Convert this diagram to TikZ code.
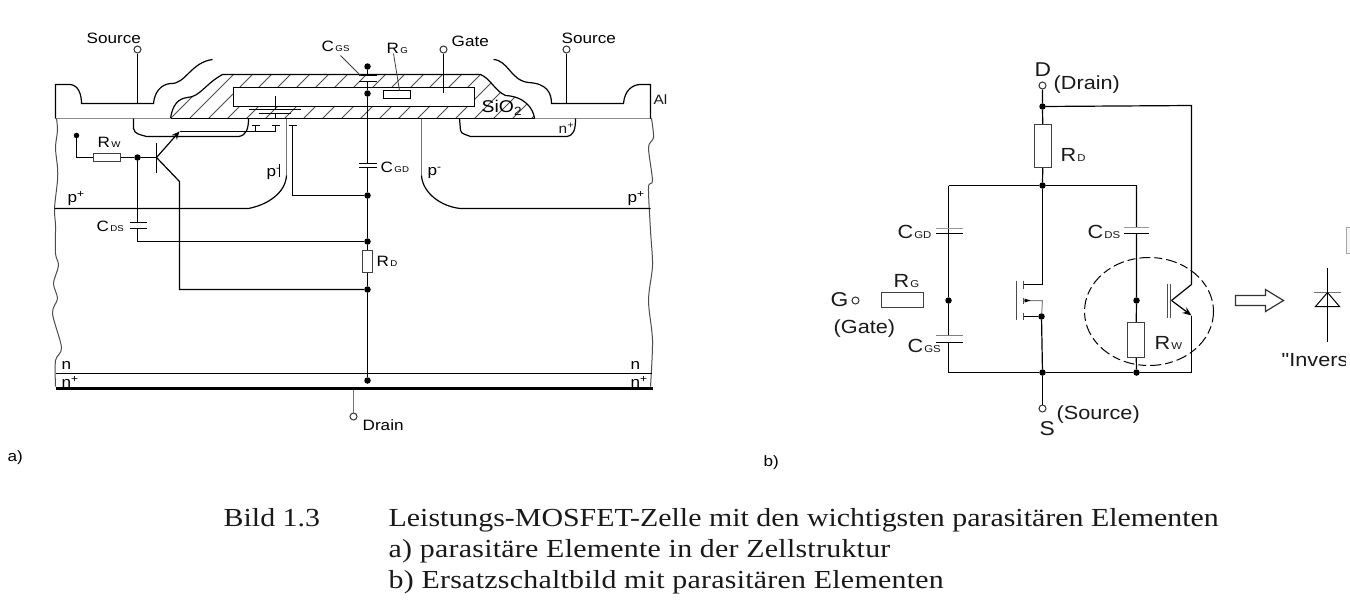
\documentclass[tikz,border=0pt]{standalone}
\usepackage{fontspec}
\setmainfont{Liberation Sans}
\newfontfamily\capfont[FakeStretch=1.15,Ligatures=TeX]{Liberation Serif}
\newfontfamily\wsans[FakeStretch=1.14]{Liberation Sans}
\usetikzlibrary{arrows.meta}
\newcommand{\sublab}[2]{#1{\fontsize{8.5}{8}\selectfont\,#2}}
\newcommand{\subbig}[2]{#1{\fontsize{10}{10}\selectfont\hspace{1pt}#2}}
\tikzset{
  x=1pt,y=-1pt,
  wire/.style={line width=1.2pt,black},
  grayline/.style={line width=1.2pt,black!55},
  dot/.style={circle,fill=black,inner sep=0pt,minimum size=6.5pt},
  term/.style={circle,draw=black!80,fill=white,line width=1pt,inner sep=0pt,minimum size=7pt},
  res/.style={rectangle,draw=black!75,fill=white,line width=1.2pt,inner sep=0pt},
  lab/.style={inner sep=0pt,font=\wsans\fontsize{15}{17}\selectfont,text=black},
  smalllab/.style={inner sep=0pt,font=\wsans\fontsize{13.5}{15}\selectfont,text=black!90},
  biglab/.style={inner sep=0pt,font=\wsans\fontsize{19}{21}\selectfont,text=black!90},
  captxt/.style={inner sep=0pt,anchor=base west,font=\capfont\fontsize{26}{28}\selectfont,text=black!90},
}
\begin{document}
\begin{tikzpicture}
\useasboundingbox (0,0) rectangle (1350,616);
\fill[white] (0,0) rectangle (1350,616);
\begin{scope}[shift={(0.5,0.5)}]

% ---------- a) cell structure ----------
% hatching of the oxide
\begin{scope}
\clip (170,118) .. controls (172,104) and (178,98) .. (187,97) .. controls (200,96) and (204,84) .. (222,74) -- (480,74) .. controls (490,78) and (494,90) .. (505,95) .. controls (524,96) and (533,108) .. (534,118) -- cycle;
\foreach \hx in {130,149,...,530} \draw[line width=.8pt,black!70] (\hx,120) -- (\hx+48,72);
\end{scope}
\draw[wire] (170,118) .. controls (172,104) and (178,98) .. (187,97) .. controls (200,96) and (204,84) .. (222,74) -- (480,74) .. controls (490,78) and (494,90) .. (505,95) .. controls (524,96) and (533,108) .. (534,118);
\draw[line width=1.6pt] (170,118) -- (534,118);
\node[res,draw=black,anchor=north west,minimum width=241pt,minimum height=19pt] (poly) at (232,86) {};

% surface
\draw[line width=1.2pt,black!45] (55,118) -- (170,118) (534,118) -- (651,118);
% aluminium outline
\draw[wire] (55,118) -- (55,84) -- (70,84) .. controls (78,85) and (81,94) .. (81,103) -- (153,103) .. controls (154,92) and (160,84) .. (170,83) .. controls (185,84) and (190,62) .. (212,59);
\draw[wire] (493,59) .. controls (508,60) and (510,80) .. (528,82) .. controls (546,83) and (551,92) .. (551,103) -- (623,103) .. controls (624,90) and (632,84) .. (640,84) -- (650,84) -- (650,118);

% rough edges
\draw[line width=1pt,black!70] plot[smooth] coordinates {(56,118) (57,130) (55,147) (57,167) (57,180) (54,208) (55,225) (55,253) (58,265) (53,283) (57,298) (52,313) (61,347) (55,360) (55,386)};
\draw[line width=1pt,black!70] plot[smooth] coordinates {(651,118) (653,137) (648,147) (652,180) (648,187) (650,230) (652,265) (648,300) (652,340) (650,386)};

% n+ wells
\draw[wire] (133,118) -- (133,128) .. controls (134,134) and (140,134) .. (146,136) -- (238,136) .. controls (246,135) and (248,128) .. (248,118);
\draw[wire] (459,118) -- (460,130) .. controls (461,134) and (466,134) .. (470,136) -- (566,136) .. controls (573,135) and (575,130) .. (575,118);

% p regions
\draw[grayline] (286,118) -- (286,175);
\draw[wire] (286,175) .. controls (285,192) and (268,204) .. (248,208) -- (54,208);
\draw[grayline] (421,118) -- (421,175);
\draw[wire] (421,175) .. controls (422,192) and (440,206) .. (460,208) -- (650,208);

% substrate
\draw[line width=1pt] (55,373) -- (651,373);
\draw[line width=3pt] (55,388) -- (652,388);

% terminals
\node[term] (srcL) at (137,49) {};
\node[term] (srcR) at (566,49) {};
\node[term] (gateT) at (443,49) {};
\node[term] (drainT) at (353,416) {};
\coordinate (srcLb) at (137,103);
\coordinate (srcRb) at (566,103);
\coordinate (gateb) at (443,92);
\coordinate (drainb) at (353,389);
\draw[wire] (srcL) -- (srcLb);
\draw[wire] (srcR) -- (srcRb);
\draw[line width=1pt] (gateT) -- (gateb);
\draw[grayline] (drainT) -- (drainb);

% centre branch
\node[dot] (t1) at (367,66) {};
\node[dot] (t2) at (367,93) {};
\node[dot] (t3) at (367,195) {};
\node[dot] (t4) at (367,241) {};
\node[dot] (t5) at (367,289) {};
\node[dot] (t6) at (367,380) {};
\node[res,minimum width=9.5pt,minimum height=22pt] (rd) at (367,261) {};
\coordinate (cgsa) at (367,75);
\coordinate (cgsb) at (367,81);
\coordinate (cgda) at (367,163);
\coordinate (cgdb) at (367,167);
\draw[wire] (t1) -- (cgsa) (cgsb) -- (t2) -- (cgda) (cgdb) -- (t3) -- (t4) -- (rd) -- (t5) -- (t6);
\draw[line width=1.2pt] (358,75) -- (376,75) (358,81) -- (376,81);
\draw[line width=1pt] (358,163) -- (376,163) (358,167) -- (376,167);

% R_G
\node[res,draw=black,minimum width=27pt,minimum height=8pt] (rg) at (396.5,94) {};
\coordinate (rgl) at (393,53);
\draw[line width=.8pt,black!75] (rgl) -- (399,90);
\coordinate (cgsl) at (340,55);
\draw[line width=.8pt,black!75] (cgsl) -- (360,75);

% parasitic bipolar
\coordinate (bas) at (156,157);
\coordinate (emi) at (179,131);
\coordinate (col) at (179,181);
\node[dot,minimum size=5.5pt] (rwend) at (76,135) {};
\node[dot] (jb) at (137,157) {};
\node[res,minimum width=27pt,minimum height=8pt] (rw) at (106.5,157) {};
\draw[wire] (rwend) |- (rw);
\draw[wire] (rw) -- (jb) -- (bas);
\draw[line width=1.2pt] (156,142) -- (156,172);
\draw[wire,-{Stealth[length=8pt,width=7pt]}] (bas) -- (emi);
\draw[wire] (bas) -- (col) -- (179,289) -- (t5);
\coordinate (emr) at (275,131);
\draw[wire] (emi) -- (emr);
% gate-body capacitor in the oxide
\draw[line width=1pt] (248,109) -- (300,109) (258,113) -- (290,113);
\draw[line width=1pt] (275,95) -- (275,109);
\draw[line width=1pt] (275,113) -- (275,117);
\draw[line width=1pt] (255,131) -- (255,125) (251,125) -- (259,125);
\draw[line width=1pt] (275,131) -- (275,125) (271,125) -- (279,125);
% p- contact
\coordinate (pc) at (292,125);
\draw[line width=1pt] (288,125) -- (296,125);
\draw[wire] (pc) |- (t3);
\draw[line width=1pt] (279,163) -- (279,176);
% C_DS
\coordinate (cdsa) at (137,222);
\coordinate (cdsb) at (137,228);
\draw[wire] (jb) -- (cdsa) (cdsb) |- (t4);
\draw[line width=1pt] (129,222) -- (146,222) (129,228) -- (146,228);

% labels a)
\node[lab,anchor=base west] (lsrcl) at (86,43) {Source};
\node[lab,anchor=base west] (lsrcr) at (561,43) {Source};
\node[lab,anchor=base west] (lgate) at (451,46) {Gate};
\node[lab,anchor=base west] (ldrain) at (362,430) {Drain};
\node[smalllab,anchor=base west] (lal) at (653,104) {Al};
\node[lab,anchor=base west] (lcgs) at (321,51) {\sublab{C}{GS}};
\node[lab,anchor=base west] (lrg) at (386,53) {\sublab{R}{G}};
\node[lab,anchor=base west] (lcgd) at (380,172) {\sublab{C}{GD}};
\node[lab,anchor=base west] (lrd) at (376,266) {\sublab{R}{D}};
\node[lab,anchor=base west] (lrw) at (97,147) {\sublab{R}{W}};
\node[lab,anchor=base west] (lcds) at (96,231) {\sublab{C}{DS}};
\node[lab,anchor=base west,font=\wsans\fontsize{17}{19}\selectfont] (lox) at (481,112) {SiO\textsubscript{2}};
\node[smalllab,anchor=base west] (lnp) at (558,133) {n\textsuperscript{+}};
\node[lab,anchor=base west] (lpa) at (266,176) {p\textsuperscript{-}};
\node[lab,anchor=base west] (lpb) at (427,175) {p\textsuperscript{-}};
\node[lab,anchor=base west] (lpc) at (67,202) {p\textsuperscript{+}};
\node[lab,anchor=base west] (lpd) at (627,202) {p\textsuperscript{+}};
\node[lab,anchor=base west] (ln1) at (61,369) {n};
\node[lab,anchor=base west] (ln2) at (61,387) {n\textsuperscript{+}};
\node[lab,anchor=base west] (ln3) at (630,369) {n};
\node[lab,anchor=base west] (ln4) at (630,387) {n\textsuperscript{+}};
\node[lab,anchor=base west] (la) at (7,461) {a)};
\node[lab,anchor=base west] (lb) at (763,466) {b)};

% ---------- b) equivalent circuit ----------
\node[term] (D) at (1042,85) {};
\node[term] (S) at (1042,408) {};
\node[term] (G) at (855,300) {};
\node[dot] (n1) at (1042,106) {};
\node[dot] (n2) at (1042,185) {};
\node[dot] (n3) at (1042,372) {};
\node[dot] (n4) at (1041,316) {};
\node[dot] (n5) at (948,300) {};
\node[dot] (n6) at (1136,300) {};
\node[dot] (n7) at (1136,372) {};
\node[res,minimum width=17pt,minimum height=43pt] (RD) at (1042.5,145.5) {};
\node[res,minimum width=42pt,minimum height=15pt] (RG) at (902,299.5) {};
\node[res,minimum width=17pt,minimum height=35pt] (RW) at (1135.5,339.5) {};
\coordinate (tr) at (1191,105);
\coordinate (trc) at (1191,284);
\coordinate (tre) at (1191,315);
\coordinate (trb) at (1171,300);
\coordinate (br) at (1191,372);
\coordinate (gdtop) at (948,185);
\coordinate (gsbot) at (948,372);
\coordinate (dstop) at (1136,185);
\draw[wire] (D) -- (n1) -- (RD) -- (n2);
\draw[wire] (n1) -- (tr) -- (trc);
\draw[wire] (tre) -- (br) -- (n7) -- (n3) -- (gsbot);
\draw[wire] (n3) -- (S);
\draw[wire] (gdtop) -- (n2) -- (dstop);
\draw[wire] (gdtop) -- (948,233) (948,233) -- (n5) -- (948,335) (948,342) -- (gsbot);
\draw[black!40,line width=1pt] (935,228) -- (962,228);
\draw[wire] (935,233) -- (962,233);
\draw[black!50,line width=1.2pt] (935,335) -- (962,335);
\draw[line width=1.3pt] (935,342) -- (962,342);
\draw[wire] (dstop) -- (1136,227) (1136,233) -- (n6) -- (RW) -- (n7);
\draw[black!40,line width=1pt] (1123,227) -- (1148,227);
\draw[wire] (1123,233) -- (1148,233);
% MOSFET
\draw[line width=1.3pt,black!70] (1016,280) -- (1016,319);
\draw[line width=1.1pt,black!70] (1023,280) -- (1023,288) (1023,297) -- (1023,303) (1023,312) -- (1023,319);
\draw[wire] (n2) -- (1042,284) -- (1023,284);
\draw[wire] (n4) -- (n3);
\draw[wire] (1023,316) -- (n4);
\draw[line width=1pt,black!50] (1023,300) -- (1042,300) -- (n4);
\fill (1024,298) -- (1030,300) -- (1024,302) -- cycle;
% BJT
\draw[line width=1pt,black!70] (1167,283) -- (1167,317) (1170,283) -- (1170,317);
\draw[wire] (trb) -- (trc);
\draw[wire,-{Stealth[length=9pt,width=7pt]}] (trb) -- (tre);
% dashed circle
\draw[line width=1pt,dash pattern=on 11pt off 4pt on 8pt off 4pt] (1148.5,311) ellipse [x radius=64.5,y radius=54];
% hollow arrow
\draw[line width=1.2pt,black!80,fill=white] (1235,295) -- (1265,295) -- (1265,289) -- (1283,300) -- (1265,311) -- (1265,305) -- (1235,305) -- cycle;
% diode
\coordinate (dt) at (1327,267);
\coordinate (db) at (1327,341);
\draw[line width=1pt] (dt) -- (db);
\draw[black!55,line width=1pt] (1313,292) -- (1340,292);
\draw[line width=1pt] (1327,292) -- (1315,306) -- (1339,306) -- cycle;
% clipped window edge
\draw[black!35,line width=1pt,fill=black!4] (1350,227) -- (1346,227) -- (1346,253) -- (1350,253);

% labels b)
\node[biglab,anchor=base west,font=\wsans\fontsize{20}{22}\selectfont] (lD) at (1034,76) {D};
\node[biglab,anchor=base west] (lDr) at (1053,89) {(Drain)};
\node[biglab,anchor=base west,font=\wsans\fontsize{20}{22}\selectfont] (lS) at (1039,435) {S};
\node[biglab,anchor=base west] (lSr) at (1056,419) {(Source)};
\node[biglab,anchor=base west,font=\wsans\fontsize{20}{22}\selectfont] (lG) at (830,306) {G};
\node[biglab,anchor=base west] (lGa) at (833,333) {(Gate)};
\node[biglab,anchor=base west] (lRD) at (1060,161) {\subbig{R}{D}};
\node[biglab,anchor=base west] (lRG) at (893,287) {\subbig{R}{G}};
\node[biglab,anchor=base west] (lRW) at (1154,349) {\subbig{R}{W}};
\node[biglab,anchor=base west] (lCGD) at (897,238) {\subbig{C}{GD}};
\node[biglab,anchor=base west] (lCGS) at (907,352) {\subbig{C}{GS}};
\node[biglab,anchor=base west] (lCDS) at (1087,238) {\subbig{C}{DS}};
\begin{scope}
\clip (1270,340) rectangle (1345,380);
\node[biglab,anchor=base west] (linv) at (1281,366) {"Invers};
\end{scope}

% caption
\node[captxt] (cap0) at (223,526) {Bild 1.3};
\node[captxt] (cap1) at (388,526) {Leistungs-MOSFET-Zelle mit den wichtigsten parasitären Elementen};
\node[captxt] (cap2) at (388,557) {\addfontfeatures{LetterSpace=1.0}a) parasitäre Elemente in der Zellstruktur};
\node[captxt] (cap3) at (388,588) {\addfontfeatures{LetterSpace=1.0}b) Ersatzschaltbild mit parasitären Elementen};
\end{scope}
\end{tikzpicture}
\end{document}
